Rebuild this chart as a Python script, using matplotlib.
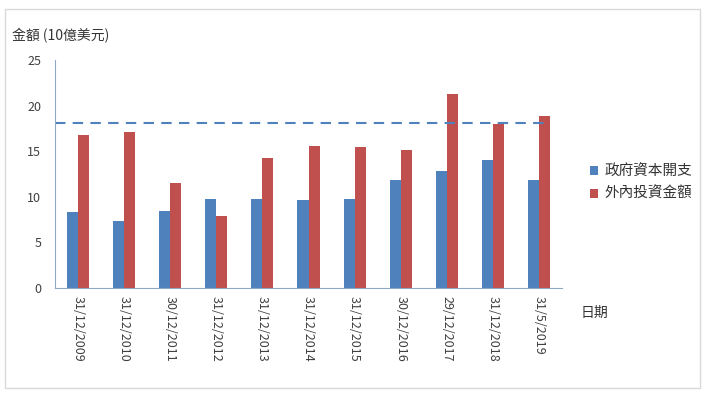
import numpy as np
import matplotlib.pyplot as plt
from matplotlib.patches import Rectangle

plt.rcParams['font.family'] = ['Noto Sans CJK TC', 'DejaVu Sans']

dates = ['31/12/2009', '31/12/2010', '30/12/2011', '31/12/2012', '31/12/2013',
         '31/12/2014', '31/12/2015', '30/12/2016', '29/12/2017', '31/12/2018',
         '31/5/2019']
gov_capex = [8.3, 7.3, 8.4, 9.8, 9.8, 9.7, 9.8, 11.8, 12.8, 14.0, 11.8]
inflow = [16.8, 17.1, 11.5, 7.9, 14.3, 15.6, 15.5, 15.1, 21.3, 18.0, 18.9]
ref_level = 18.1

blue = '#4F81BD'
red = '#C0504D'
axis_col = '#8EA9C8'

fig = plt.figure(figsize=(7.06, 3.95), dpi=100)
ax = fig.add_axes([0.078, 0.271, 0.718, 0.577])

x = np.arange(len(dates))
w = 0.24
ax.bar(x - w / 2, gov_capex, w, color=blue, label='政府資本開支')
ax.bar(x + w / 2, inflow, w, color=red, label='外內投資金額')
ax.axhline(ref_level, xmin=0, xmax=0.975, color=blue, linestyle=(0, (5, 3.5)), linewidth=1.5)

ax.set_xlim(-0.5, len(dates) - 0.5)
ax.set_ylim(0, 25)
ax.set_yticks([0, 5, 10, 15, 20, 25])
ax.set_xticks(x)
ax.set_xticklabels(dates, rotation=270, fontsize=9, color='#404040')
ax.tick_params(axis='y', length=0, labelsize=9, labelcolor='#404040', pad=10)
ax.tick_params(axis='x', length=0, pad=6)
for s in ['top', 'right']:
    ax.spines[s].set_visible(False)
for s in ['left', 'bottom']:
    ax.spines[s].set_color(axis_col)

fig.text(0.017, 0.91, '金額 (10億美元)', fontsize=10, color='#333333', va='center')
fig.text(0.822, 0.208, '日期', fontsize=10, color='#333333', va='center')

ax.legend(loc='upper left', bbox_to_anchor=(1.03, 0.6), frameon=False,
          fontsize=10.5, handlelength=0.55, handleheight=0.55, handletextpad=0.4,
          labelspacing=0.6, labelcolor='#333333')

fig.patches.append(Rectangle((0.007, 0.018), 0.984, 0.96, transform=fig.transFigure,
                             fill=False, edgecolor='#D9D9D9', linewidth=1))

fig.savefig('out.png', dpi=100)
